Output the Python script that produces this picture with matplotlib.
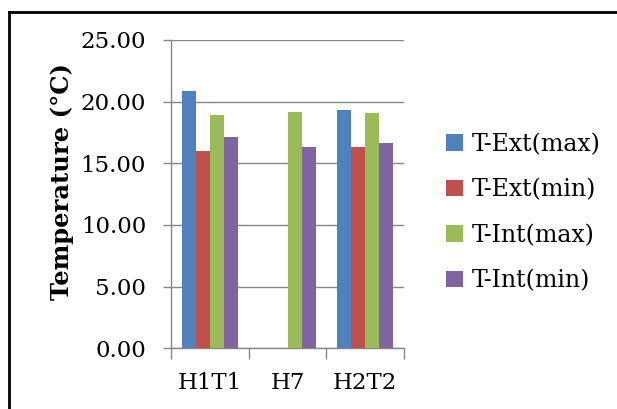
import numpy as np
import matplotlib
matplotlib.use("Agg")
import matplotlib.pyplot as plt
from matplotlib.patches import Patch
from matplotlib.lines import Line2D

categories = ["H1T1", "H7", "H2T2"]
series_names = ["T-Ext(max)", "T-Ext(min)", "T-Int(max)", "T-Int(min)"]
t_ext_max = [20.87, np.nan, 19.30]
t_ext_min = [15.97, np.nan, 16.30]
t_int_max = [18.90, 19.19, 19.11]
t_int_min = [17.11, 16.30, 16.63]
colors = ["#4F81BD", "#C0504D", "#9BBB59", "#8064A2"]
yticks = [0, 5, 10, 15, 20, 25]

plt.rcParams['font.family'] = ['DejaVu Serif']

W, H = 617, 409
fig = plt.figure(figsize=(W / 100, H / 100), dpi=100)
ax = fig.add_axes([171 / W, 1 - 348.3 / H, (404 - 171) / W, (348.3 - 40) / H])

series = [t_ext_max, t_ext_min, t_int_max, t_int_min]
x = np.arange(len(categories))
bw = 0.182
for i, (vals, c) in enumerate(zip(series, colors)):
    ax.bar(x + (i - 1.5) * bw, vals, width=bw, color=c, zorder=3, linewidth=0)

grid_c = "#878787"
ax.set_xlim(-0.5, 2.5)
ax.set_ylim(0, 25)
ax.set_yticks(yticks)
ax.set_yticklabels([f"{v:.2f}" for v in yticks], fontsize=16.5)
ax.yaxis.grid(True, color=grid_c, linewidth=1.0, zorder=0)
ax.set_xticks(x)
ax.set_xticklabels(categories, fontsize=16.5)
ax.set_xticks([-0.5, 0.5, 1.5, 2.5], minor=True)
ax.tick_params(axis='x', which='major', length=0, pad=17)
ax.tick_params(axis='x', which='minor', length=8, color=grid_c, width=1)
ax.tick_params(axis='y', length=6, color=grid_c, width=1, pad=12)
for s in ["top", "right"]:
    ax.spines[s].set_visible(False)
for s in ["left", "bottom"]:
    ax.spines[s].set_color(grid_c)
    ax.spines[s].set_linewidth(1.0)

fig.text(62 / W, 1 - 182 / H, "Temperature (°C)", rotation=90, fontsize=17.5,
         fontweight='bold', ha='center', va='center')

handles = [Patch(facecolor=c, edgecolor='none') for c in colors]
fig.legend(handles, series_names, loc='upper left',
           bbox_to_anchor=(446 / W, 1 - 133 / H), frameon=False, fontsize=17,
           handlelength=0.7, handleheight=0.7, handletextpad=0.4,
           labelspacing=0.95, borderaxespad=0, borderpad=0)

# figure frame (left and top edges visible)
fig.add_artist(Line2D([9 / W, 9 / W], [0, 1 - 12 / H], transform=fig.transFigure,
                      color='black', linewidth=2))
fig.add_artist(Line2D([9 / W, 1], [1 - 12 / H, 1 - 12 / H], transform=fig.transFigure,
                      color='black', linewidth=2))

fig.savefig("out.png", dpi=100)
